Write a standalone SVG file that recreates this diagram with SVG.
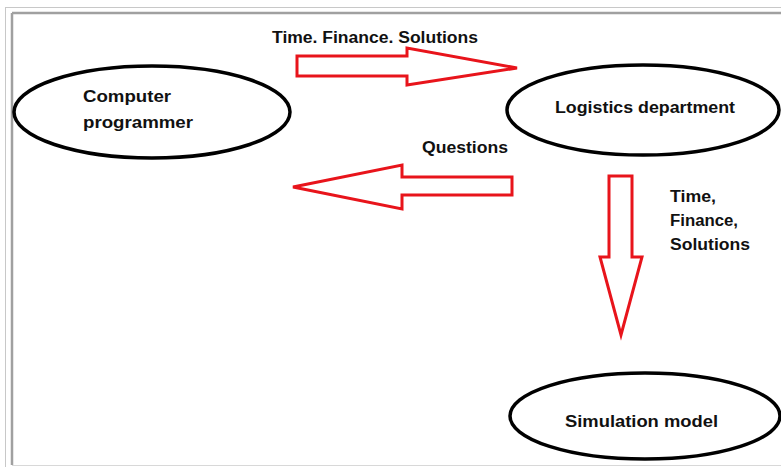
<svg xmlns="http://www.w3.org/2000/svg" width="781" height="467" viewBox="0 0 781 467">
<style>
.node{fill:#fff;stroke:#000;stroke-width:3.5}
.arr{fill:#fff;stroke:#e8141b;stroke-width:3;stroke-linejoin:miter}
.t{font-family:"Liberation Sans",Arial,sans-serif;font-weight:bold;font-size:16px;fill:#111}
</style>
<rect x="0" y="0" width="781" height="467" fill="#fff"/>
<g id="frame">
<line x1="5" y1="7.5" x2="781" y2="7.5" stroke="#c8c8c8" stroke-width="1"/>
<line x1="5.5" y1="7" x2="5.5" y2="467" stroke="#c8c8c8" stroke-width="1"/>
<line x1="12" y1="13" x2="781" y2="13" stroke="#a0a0a0" stroke-width="2.5"/>
<line x1="12" y1="13" x2="12" y2="465" stroke="#a0a0a0" stroke-width="2.5"/>
<line x1="12" y1="465.5" x2="781" y2="465.5" stroke="#d8d8d8" stroke-width="1"/>
</g>
<g id="connectors">
<polygon class="arr" points="297,56 407,56 407,48 517,68 407,85 407,76 297,76"/>
<polygon class="arr" points="512,177 402,177 402,165 293,187 402,209 402,195 512,195"/>
<polygon class="arr" points="609,176 632,176 632,257 642,257 621,335 600,257 609,257"/>
</g>
<g id="computer-programmer">
<ellipse class="node" cx="152" cy="112" rx="138" ry="46"/>
<text class="t" x="83" y="102" textLength="88" lengthAdjust="spacingAndGlyphs">Computer</text>
<text class="t" x="83" y="128" textLength="110" lengthAdjust="spacingAndGlyphs">programmer</text>
</g>
<g id="logistics-department">
<ellipse class="node" cx="643" cy="110" rx="136" ry="45"/>
<text class="t" x="555" y="113" textLength="180" lengthAdjust="spacingAndGlyphs">Logistics department</text>
</g>
<g id="simulation-model">
<ellipse class="node" cx="645" cy="416" rx="135" ry="43"/>
<text class="t" x="565" y="427" textLength="153" lengthAdjust="spacingAndGlyphs">Simulation model</text>
</g>
<g id="labels">
<text class="t" x="272" y="43" textLength="206" lengthAdjust="spacingAndGlyphs">Time. Finance. Solutions</text>
<text class="t" x="422" y="153" textLength="86" lengthAdjust="spacingAndGlyphs">Questions</text>
<text class="t" x="670" y="202" textLength="46" lengthAdjust="spacingAndGlyphs">Time,</text>
<text class="t" x="670" y="226" textLength="68" lengthAdjust="spacingAndGlyphs">Finance,</text>
<text class="t" x="670" y="250" textLength="80" lengthAdjust="spacingAndGlyphs">Solutions</text>
</g>
</svg>
